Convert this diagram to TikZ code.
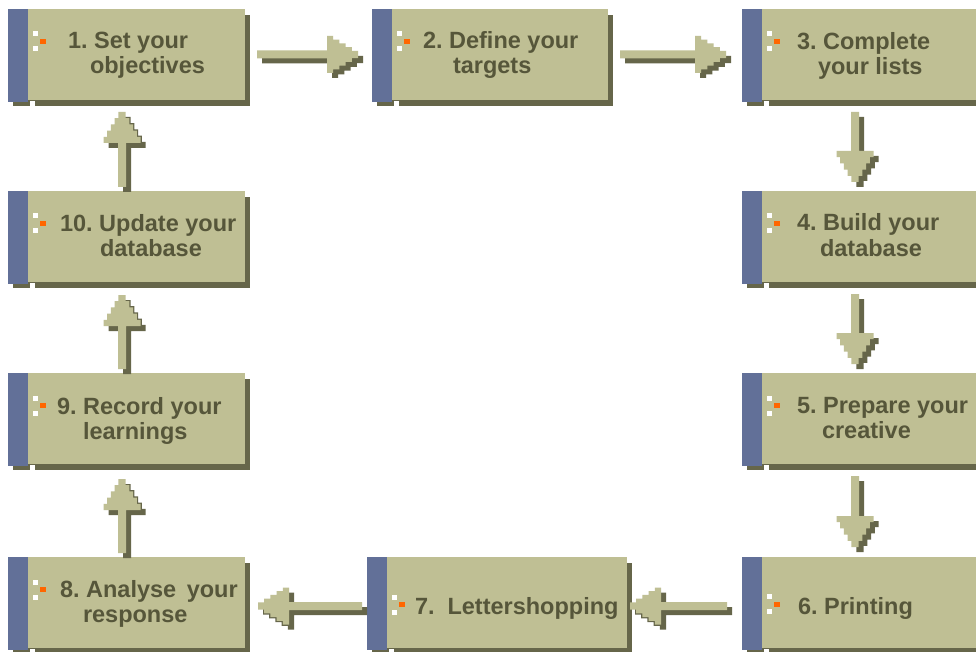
\documentclass[tikz,border=0pt]{standalone}
\usepackage{fontspec}
\setmainfont{Liberation Sans}
\usetikzlibrary{calc}
\frenchspacing
\definecolor{bodyc}{RGB}{191,191,148}
\definecolor{barc}{RGB}{98,112,152}
\definecolor{shadc}{RGB}{102,102,74}
\definecolor{txtc}{RGB}{86,86,58}
\definecolor{dotc}{RGB}{255,102,0}
\tikzset{
  boxbody/.style={fill=bodyc, draw=none, inner sep=0pt, outer sep=0pt, anchor=north west, minimum height=91pt},
  steptext/.style={anchor=base west, inner sep=0pt, outer sep=0pt, text=txtc, font=\fontsize{23.5}{27}\selectfont\bfseries},
  pics/barrow/.style n args={3}{code={
    \fill[#3,rotate=#1] (0,-4) -- ({#2-31},-4) -- ({#2-31},-18.5) -- ({#2-24.8},-18.5) -- ({#2-24.8},-14.8)
      -- ({#2-18.6},-14.8) -- ({#2-18.6},-11.1) -- ({#2-12.4},-11.1) -- ({#2-12.4},-7.4)
      -- ({#2-6.2},-7.4) -- ({#2-6.2},-3.7) -- (#2,-3.7) -- (#2,3.7) -- ({#2-6.2},3.7)
      -- ({#2-6.2},7.4) -- ({#2-12.4},7.4) -- ({#2-12.4},11.1) -- ({#2-18.6},11.1)
      -- ({#2-18.6},14.8) -- ({#2-24.8},14.8) -- ({#2-24.8},18.5) -- ({#2-31},18.5)
      -- ({#2-31},4) -- (0,4) -- cycle;
  }}
}
% #1 name, #2 left, #3 top, #4 right, #5 marker centre offset
\newcommand\stepbox[5]{%
  \fill[shadc] (#2+5,#3+6) rectangle (#4+5,#3+97);
  \node[boxbody, minimum width={(#4-#2)*1pt}] (#1) at (#2,#3) {};
  \fill[barc] (#2,#3) rectangle (#2+20,#3+93);
  \fill[white] (#2+22,#3+92) rectangle (#2+27,#3+97);
  \fill[white] (#2+25,#3+#5-10) rectangle ++(5,5);
  \fill[white] (#2+25,#3+#5+5) rectangle ++(5,5);
  \fill[dotc] (#2+32,#3+#5-2.5) rectangle ++(6,5);
}
% #1 tail coordinate, #2 rotation, #3 length
\newcommand\blockconn[3]{%
  \pic at ($(#1)+(5,5)$) {barrow={#2}{#3}{shadc}};
  \pic at (#1) {barrow={#2}{#3}{bodyc}};
}
\begin{document}
\begin{tikzpicture}[x=1pt,y=-1pt]
\useasboundingbox (0,0) rectangle (976,652);
\fill[white] (0,0) rectangle (976,652);
\clip (0,0) rectangle (976,652);

\stepbox{b1}{8}{9}{245}{32.5}
\stepbox{b2}{372}{9}{608}{32.5}
\stepbox{b3}{742}{9}{982}{32.5}
\stepbox{b4}{742}{191}{982}{32.5}
\stepbox{b5}{742}{373}{982}{32.5}
\stepbox{b6}{742}{557}{982}{47}
\stepbox{b7}{367}{557}{627}{47.5}
\stepbox{b8}{8}{557}{245}{32.5}
\stepbox{b9}{8}{373}{245}{32.5}
\stepbox{b10}{8}{191}{245}{32.5}

\node[steptext] (t1a) at (68,49) {1. Set your};
\node[steptext] (t1b) at (90,74) {objectives};
\node[steptext] (t2a) at (423,49) {2. Define your};
\node[steptext] (t2b) at (453,74) {targets};
\node[steptext] (t3a) at (797,50) {3. Complete};
\node[steptext] (t3b) at (818,75) {your lists};
\node[steptext] (t4a) at (797,231) {4. Build your};
\node[steptext] (t4b) at (820,256) {database};
\node[steptext] (t5a) at (797,413) {5. Prepare your};
\node[steptext] (t5b) at (822,438) {creative};
\node[steptext] (t6a) at (798,614) {6. Printing};
\node[steptext] (t7a) at (415,614) {7.\hspace{0.55em}Lettershopping};
\node[steptext] (t8a) at (60,597) {8. Analyse\hspace{0.45em}your};
\node[steptext] (t8b) at (83,622) {response};
\node[steptext] (t9a) at (57,414) {9. Record your};
\node[steptext] (t9b) at (83,439) {learnings};
\node[steptext] (t10a) at (60,232) {10. Update your};
\node[steptext] (t10b) at (100,256) {database};

\blockconn{$(b1.east)+(12,0)$}{0}{101}
\blockconn{$(b2.east)+(12,0)$}{0}{106}
\blockconn{$(b3.south west)+(113,12)$}{-90}{70}
\blockconn{$(b4.south west)+(113,12)$}{-90}{70}
\blockconn{$(b5.south west)+(113,12)$}{-90}{71}
\blockconn{$(b6.west)+(-15,3.5)$}{180}{97}
\blockconn{$(b7.west)+(-5,3.5)$}{180}{104}
\blockconn{$(b8.north)+(-4.5,-4)$}{90}{74}
\blockconn{$(b9.north)+(-4.5,-4)$}{90}{74}
\blockconn{$(b10.north)+(-4.5,-4)$}{90}{75}
\end{tikzpicture}
\end{document}
